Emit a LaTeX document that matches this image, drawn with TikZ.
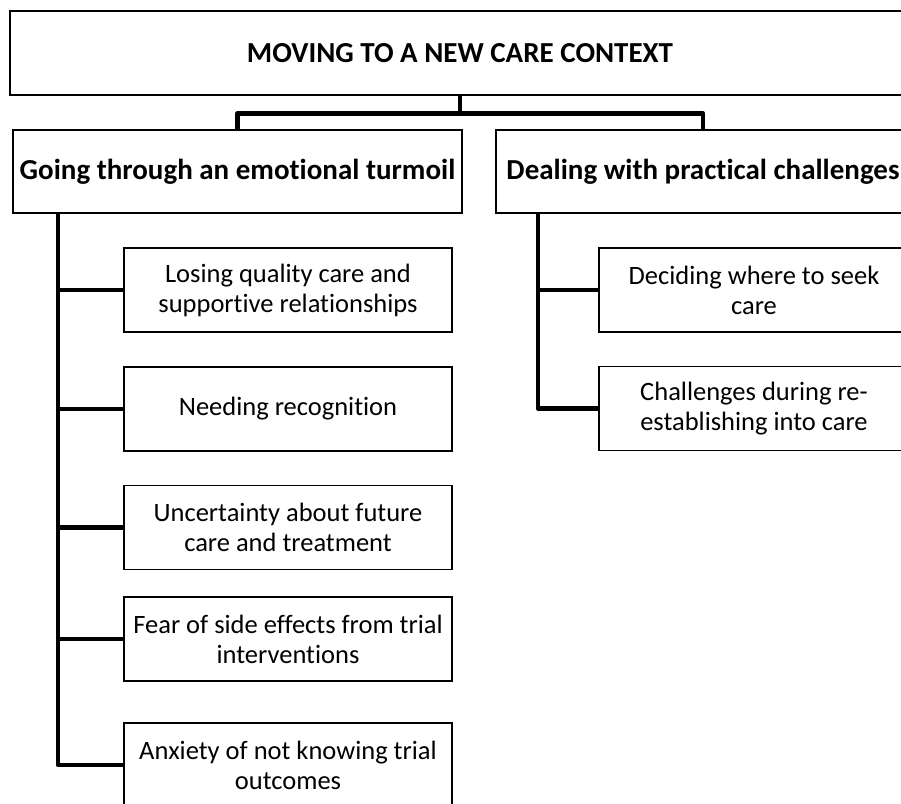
\documentclass[tikz,border=0pt]{standalone}
\usepackage{fontspec}
\setmainfont{Carlito}[Ligatures=NoCommon]
\newcommand{\subtheme}[5][328pt]{% #1: width, #2: name, #3: x, #4: y, #5: text
	\node[box,minimum width=#1] (#2) at (#3,#4) {#5};
}
\tikzset{
	box/.style={draw,line width=1.4pt,minimum height=84pt,inner sep=0pt,align=center,font=\fontsize{26.5}{30}\selectfont},
	theme/.style={box,minimum height=83pt,font=\fontsize{29}{34}\selectfont\bfseries},
	link/.style={line width=4.5pt,line join=round}
}
\begin{document}
\begin{tikzpicture}[x=1pt,y=-1pt]
					\useasboundingbox (0,0) rectangle (901,803);
					
					% Main theme
					\node[theme,minimum width=900pt,minimum height=84pt] (main) at (460,53) {MOVING TO A NEW CARE CONTEXT};
					
					% Themes
					\node[theme,minimum width=449pt] (emo) at (237.5,171.5) {Going through an emotional turmoil};
					\node[theme,minimum width=414pt] (prac) at (703,171.5) {Dealing with practical challenges};
					
					% Subthemes
					\subtheme{emo1}{288}{290}{Losing quality care and\\supportive relationships}
					\subtheme{emo2}{288}{409}{Needing recognition}
					\subtheme{emo3}{288}{527.5}{Uncertainty about future\\care and treatment}
					\subtheme{emo4}{288}{639}{Fear of side effects from trial\\interventions}
					\subtheme{emo5}{288}{765}{Anxiety of not knowing trial\\outcomes}
					\subtheme[310pt]{prac1}{754}{290}{Deciding where to seek\\care}
					\subtheme[310pt]{prac2}{754}{408.5}{Challenges during re-\\establishing into care}
					
					% Connectors
					\draw[link] (main.south) -- ++(0,18) -| (emo.north);
					\draw[link] (main.south) -- ++(0,18) -| (prac.north);
					\coordinate (trunk1) at (58,213);
					\coordinate (trunk2) at (538,213);
					\foreach \s in {emo1,emo2,emo3,emo4,emo5} \draw[link] (trunk1) |- (\s.west);
					\foreach \s in {prac1,prac2} \draw[link] (trunk2) |- (\s.west);
				\end{tikzpicture}
\end{document}
